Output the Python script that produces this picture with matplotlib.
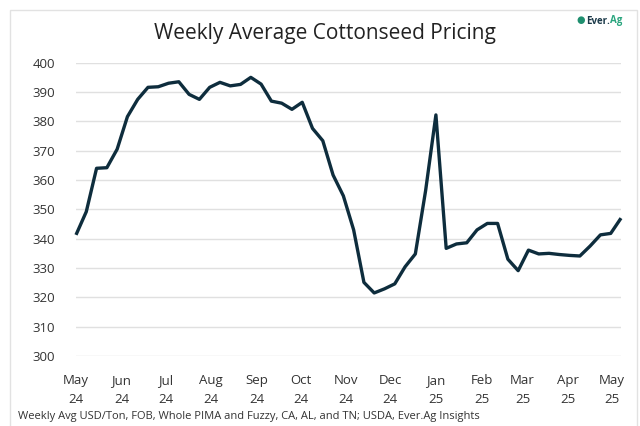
import matplotlib
matplotlib.use("Agg")
import matplotlib.pyplot as plt
import matplotlib.dates as mdates
import numpy as np
import pandas as pd
from matplotlib.patches import Rectangle
from matplotlib.transforms import offset_copy

start_date = "2024-05-01"
n_weeks = 54
prices = [341.3, 349.2, 364.0, 364.2, 370.5, 381.6, 387.5, 391.6, 391.8, 393.0,
          393.5, 389.2, 387.5, 391.6, 393.3, 392.1, 392.6, 395.0, 392.7, 386.9,
          386.2, 384.1, 386.5, 377.6, 373.4, 361.7, 354.6, 343.0, 325.1, 321.5,
          322.9, 324.6, 330.4, 334.8, 356.4, 382.2, 336.7, 338.2, 338.6, 343.0,
          345.2, 345.2, 333.0, 329.1, 336.1, 334.8, 335.0, 334.6, 334.3, 334.1,
          337.5, 341.3, 341.8, 347.0]
y_ticks = [300, 310, 320, 330, 340, 350, 360, 370, 380, 390, 400]
title = "Weekly Average Cottonseed Pricing"
footer = "Weekly Avg USD/Ton, FOB, Whole PIMA and Fuzzy, CA, AL, and TN; USDA, Ever.Ag Insights"

dates = pd.date_range(start_date, periods=n_weeks, freq="7D")

plt.rcParams['font.family'] = ['Open Sans', 'DejaVu Sans']
fig = plt.figure(figsize=(6.4, 4.26), dpi=100)
fig.patch.set_facecolor("white")

# outer frame
fig.add_artist(Rectangle((10/640, -0.05), 627/640, 1 - 10/426 + 0.05,
                         transform=fig.transFigure, fill=False,
                         edgecolor="#e2e2e2", lw=1.0))

ax = fig.add_axes([76/640, 1 - 356/426, (621 - 76)/640, (356 - 62.7)/426])
ax.plot(dates, prices, color="#0e2d3d", lw=2.4, solid_joinstyle="round",
        solid_capstyle="butt", zorder=3, clip_on=False)
ax.set_xlim(dates[0], dates[-1])
ax.set_ylim(300, 400)
ax.set_yticks(y_ticks)
ax.yaxis.grid(True, color="#e0e0e0", lw=1.0)
ax.set_axisbelow(True)
for s in ax.spines.values():
    s.set_visible(False)
ax.tick_params(axis="both", length=0, labelsize=9.5, colors="#333333")
ax.tick_params(axis="y", pad=15)
ax.tick_params(axis="x", pad=13)
ax.xaxis.set_major_locator(mdates.MonthLocator())
ax.xaxis.set_major_formatter(mdates.DateFormatter("%b\n%y"))
for lbl in ax.get_xticklabels():
    lbl.set_linespacing(1.6)

fig.text(325/640, 1 - 33/426, title, ha="center", va="center",
         fontsize=15, color="#222222")
fig.text(18/640, 1 - 416/426, footer, ha="left", va="center",
         fontsize=8.0, color="#333333")

# logo
fig.text(581/640, 1 - 21/426, "\u25CF", ha="center", va="center", fontsize=7,
         color="#1f8f6f")
t1 = fig.text(586/640, 1 - 21/426, "Ever.", ha="left", va="center", fontsize=7,
              fontweight="bold", color="#1c3a4a")
fig.canvas.draw()
bb = t1.get_window_extent(renderer=fig.canvas.get_renderer())
fig.text(bb.x1 / fig.bbox.width, 1 - 21/426, "Ag", ha="left", va="center",
         fontsize=7, fontweight="bold", color="#2aa57e")

fig.savefig("out.png", dpi=100, facecolor="white")
